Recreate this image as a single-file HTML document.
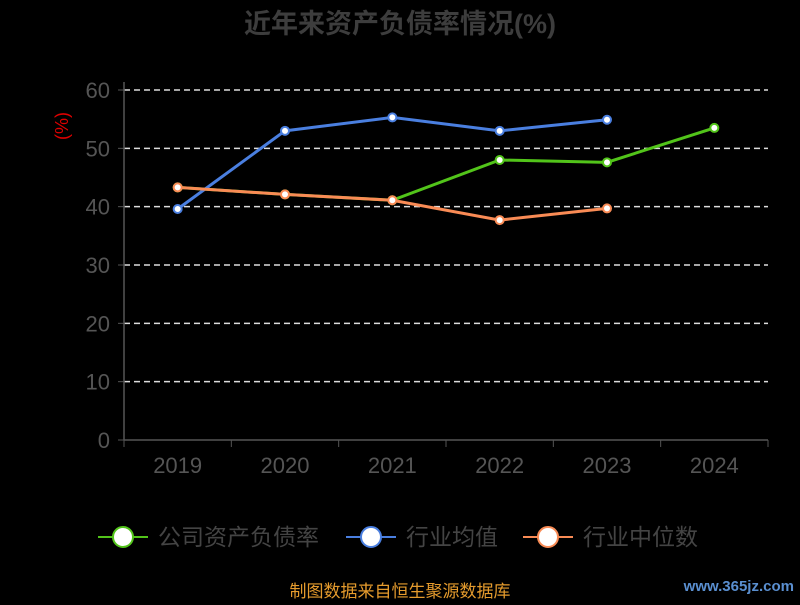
<!DOCTYPE html>
<html><head><meta charset="utf-8"><style>
body{margin:0;background:#000;width:800px;height:600px;overflow:hidden;font-family:"Liberation Sans","Noto Sans CJK SC",sans-serif}
</style></head><body>
<svg id="c" width="800" height="600" style="font-family:'Liberation Sans','Noto Sans CJK SC',sans-serif">
<text x="400" y="33" text-anchor="middle" font-size="27" font-weight="bold" fill="#3d3d3d">近年来资产负债率情况(%)</text>
<text transform="translate(68,126) rotate(-90)" text-anchor="middle" font-size="18" fill="#d00">(%)</text>
<g id="grid"></g><g id="axes"></g><g id="series"></g>
<g font-size="23" fill="#444">
<g><line x1="98" y1="537" x2="148" y2="537" stroke="#52c41a" stroke-width="2"/><circle cx="123" cy="537" r="10" fill="#fff" stroke="#52c41a" stroke-width="2"/><text x="158" y="545">公司资产负债率</text></g>
<g><line x1="346" y1="537" x2="396" y2="537" stroke="#4a7fe0" stroke-width="2"/><circle cx="371" cy="537" r="10" fill="#fff" stroke="#4a7fe0" stroke-width="2"/><text x="406" y="545">行业均值</text></g>
<g><line x1="523" y1="537" x2="573" y2="537" stroke="#f98b55" stroke-width="2"/><circle cx="548" cy="537" r="10" fill="#fff" stroke="#f98b55" stroke-width="2"/><text x="583" y="545">行业中位数</text></g>
</g>
<text x="400" y="597" text-anchor="middle" font-size="17" fill="#e59b2d">制图数据来自恒生聚源数据库</text>
<text x="794" y="591" text-anchor="end" font-size="15" font-weight="bold" fill="#5a8fd0">www.365jz.com</text>
</svg>
<script>
const categories=["2019","2020","2021","2022","2023","2024"];
const yTicks=[0,10,20,30,40,50,60];
const companyValues=[43.3,42.1,41.1,48.0,47.6,53.5];
const avgValues=[39.6,53.0,55.3,53.0,54.9,null];
const medianValues=[43.3,42.1,41.1,37.7,39.7,null];
const NS="http://www.w3.org/2000/svg";
const L=124,R=768,T=90,B=440,ymax=60;
const bw=(R-L)/categories.length;
const xs=i=>L+bw*(i+0.5);
const ys=v=>B-(v/ymax)*(B-T);
function mk(tag,attrs,parent){const e=document.createElementNS(NS,tag);for(const k in attrs)e.setAttribute(k,attrs[k]);parent.appendChild(e);return e;}
const grid=document.getElementById('grid'),axes=document.getElementById('axes'),ser=document.getElementById('series');
yTicks.forEach(t=>{
 if(t>0){const g=mk('line',{x1:L,x2:R,y1:ys(t),y2:ys(t),stroke:'#ddd','stroke-width':1.5,'stroke-dasharray':'6,4'},grid);
 
 }
 const tk=mk('line',{x1:L-6,x2:L,y1:ys(t),y2:ys(t),stroke:'#555'},axes);
 
 
 const tx=mk('text',{x:L-14,y:ys(t)+8,'text-anchor':'end','font-size':22,fill:'#555'},axes);
 tx.textContent=t;
 
 
});
const ya=mk('line',{x1:L,x2:L,y1:T-8,y2:B,stroke:'#555','stroke-width':1.5},axes);


const xa=mk('line',{x1:L,x2:R,y1:B,y2:B,stroke:'#555','stroke-width':1.5},axes);


for(let i=0;i<=categories.length;i++){const tk=mk('line',{x1:L+bw*i,x2:L+bw*i,y1:B,y2:B+7,stroke:'#555'},axes);
 
 }
categories.forEach((c,i)=>{const t=mk('text',{x:xs(i),y:B+33,'text-anchor':'middle','font-size':22,fill:'#555'},axes);t.textContent=c;
 
 });
function drawSeries(vals,color,name){
 const g=mk('g',{},ser);
 
 
 const pts=[];vals.forEach((v,i)=>{if(v!=null)pts.push([xs(i),ys(v)]);});
 mk('polyline',{points:pts.map(p=>p.join(',')).join(' '),fill:'none',stroke:color,'stroke-width':3},g);
 pts.forEach(p=>{const c=mk('circle',{cx:p[0],cy:p[1],r:4,fill:'#fff',stroke:color,'stroke-width':2},g);
 
 });
}
drawSeries(companyValues,'#52c41a','company-series');
drawSeries(avgValues,'#4a7fe0','industry-avg-series');
drawSeries(medianValues,'#f98b55','industry-median-series');
</script>
</body></html>
